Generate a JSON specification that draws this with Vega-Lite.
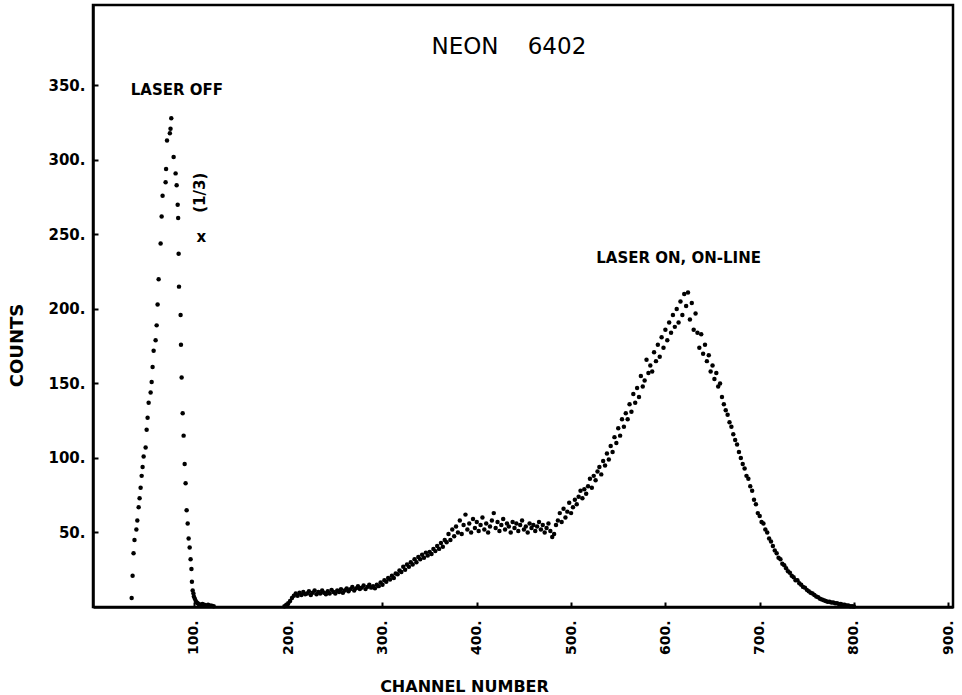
{
  "$schema": "https://vega.github.io/schema/vega-lite/v6.json",
  "width": 860,
  "height": 602,
  "autosize": {"type": "none"},
  "padding": {"left": 93, "top": 5, "right": 9, "bottom": 88},
  "background": "white",
  "config": {
    "view": {"stroke": "black", "strokeWidth": 2.5},
    "axis": {
      "domainColor": "black", "domainWidth": 2.5, "tickColor": "black", "tickWidth": 2,
      "labelColor": "black", "titleColor": "black", "grid": false,
      "labelFont": "DejaVu Sans", "titleFont": "DejaVu Sans",
      "labelFontWeight": "bold", "titleFontWeight": "bold"
    }
  },
  "layer": [
    {
      "data": {"values": [
        {"channel":34,"counts":6},{"channel":35,"counts":21},{"channel":36,"counts":36},{"channel":37,"counts":45},
        {"channel":39,"counts":52},{"channel":40,"counts":58},{"channel":41.4,"counts":67},{"channel":42.4,"counts":73},
        {"channel":43.5,"counts":80},{"channel":44.6,"counts":88},{"channel":45.6,"counts":94},{"channel":46.7,"counts":101},
        {"channel":48.8,"counts":107},{"channel":49.9,"counts":119},{"channel":50.9,"counts":127},{"channel":52,"counts":137},
        {"channel":54.1,"counts":144},{"channel":55.2,"counts":151},{"channel":56.2,"counts":161},{"channel":57.3,"counts":172},
        {"channel":59.4,"counts":179},{"channel":60.5,"counts":189},{"channel":61.5,"counts":203},{"channel":62.6,"counts":220},
        {"channel":64.7,"counts":244},{"channel":65.8,"counts":262},{"channel":66.8,"counts":276},{"channel":70,"counts":285},
        {"channel":70.5,"counts":294},{"channel":71.5,"counts":313},{"channel":74.5,"counts":318},{"channel":75.2,"counts":321},
        {"channel":76,"counts":328},{"channel":78.5,"counts":302},{"channel":80.6,"counts":291},{"channel":81.7,"counts":283},
        {"channel":82.8,"counts":270},{"channel":83.3,"counts":261},{"channel":83.8,"counts":237},{"channel":84.2,"counts":215},
        {"channel":85.9,"counts":196},{"channel":86.3,"counts":176},{"channel":87,"counts":154},{"channel":88.1,"counts":130},
        {"channel":89.1,"counts":115},{"channel":90.2,"counts":96},{"channel":91.2,"counts":83},{"channel":92.3,"counts":65},
        {"channel":93.4,"counts":56},{"channel":94.4,"counts":46},{"channel":95.5,"counts":40},{"channel":96.5,"counts":32},
        {"channel":97.4,"counts":25.5},{"channel":97.9,"counts":17},{"channel":98.7,"counts":11},{"channel":99.5,"counts":9},
        {"channel":100,"counts":7},{"channel":101,"counts":5.5},{"channel":102,"counts":4},{"channel":103,"counts":3},
        {"channel":104,"counts":2.5},{"channel":105,"counts":2},{"channel":107,"counts":1.5},{"channel":109,"counts":2},
        {"channel":111,"counts":1.5},{"channel":113,"counts":1},{"channel":115,"counts":1.5},{"channel":117,"counts":1},
        {"channel":119,"counts":0.8},{"channel":121,"counts":0.5},
        {"channel":196,"counts":0.5},{"channel":198,"counts":1.5},{"channel":200,"counts":2.5},{"channel":202,"counts":4},
        {"channel":204,"counts":6},{"channel":206,"counts":7.5},{"channel":208,"counts":9},{"channel":210,"counts":7.5},
        {"channel":212,"counts":9.5},{"channel":214,"counts":8},{"channel":216,"counts":10},{"channel":218,"counts":8.5},
        {"channel":220,"counts":9},{"channel":222,"counts":10.5},{"channel":224,"counts":8},{"channel":226,"counts":9.5},
        {"channel":228,"counts":11},{"channel":230,"counts":8.5},{"channel":232,"counts":10},{"channel":234,"counts":9},
        {"channel":236,"counts":11},{"channel":238,"counts":9.5},{"channel":240,"counts":8.5},{"channel":242,"counts":10.5},
        {"channel":244,"counts":9},{"channel":246,"counts":11.5},{"channel":248,"counts":10},{"channel":250,"counts":9},
        {"channel":252,"counts":11},{"channel":254,"counts":10},{"channel":256,"counts":12},{"channel":258,"counts":9.5},
        {"channel":260,"counts":11},{"channel":262,"counts":12.5},{"channel":264,"counts":10.5},{"channel":266,"counts":12},
        {"channel":268,"counts":13.5},{"channel":270,"counts":11},{"channel":272,"counts":12.5},{"channel":274,"counts":14},
        {"channel":276,"counts":12},{"channel":278,"counts":13},{"channel":280,"counts":14.5},{"channel":282,"counts":12},
        {"channel":284,"counts":13.5},{"channel":286,"counts":15},{"channel":288,"counts":13},{"channel":290,"counts":14},
        {"channel":292,"counts":12.5},{"channel":294,"counts":15},{"channel":296,"counts":14},{"channel":298,"counts":16.5},
        {"channel":300,"counts":15},{"channel":302,"counts":18},{"channel":304,"counts":17},{"channel":306,"counts":19.5},
        {"channel":308,"counts":18.5},{"channel":310,"counts":21},{"channel":312,"counts":19.5},{"channel":314,"counts":22.5},
        {"channel":316,"counts":22},{"channel":318,"counts":24.5},{"channel":320,"counts":23.5},{"channel":322,"counts":27},
        {"channel":324,"counts":25},{"channel":326,"counts":28.5},{"channel":328,"counts":27},{"channel":330,"counts":30},
        {"channel":332,"counts":28.5},{"channel":334,"counts":32},{"channel":336,"counts":30},{"channel":338,"counts":33.5},
        {"channel":340,"counts":32},{"channel":342,"counts":35},{"channel":344,"counts":33},{"channel":346,"counts":36.5},
        {"channel":348,"counts":34.5},{"channel":350,"counts":37},{"channel":352,"counts":35.5},{"channel":354,"counts":39},
        {"channel":356,"counts":37.5},{"channel":358,"counts":41},{"channel":360,"counts":39},{"channel":362,"counts":43},
        {"channel":364,"counts":40.5},{"channel":366,"counts":45},{"channel":368,"counts":43.5},{"channel":370,"counts":49},
        {"channel":372,"counts":45},{"channel":374,"counts":52},{"channel":376,"counts":47.5},{"channel":378,"counts":54},
        {"channel":380,"counts":50},{"channel":382,"counts":58},{"channel":384,"counts":49},{"channel":386,"counts":55},
        {"channel":388,"counts":62},{"channel":390,"counts":52},{"channel":392,"counts":56},{"channel":394,"counts":50},
        {"channel":396,"counts":59},{"channel":398,"counts":53},{"channel":400,"counts":57},{"channel":402,"counts":51},
        {"channel":404,"counts":55},{"channel":406,"counts":60},{"channel":408,"counts":52},{"channel":410,"counts":56},
        {"channel":412,"counts":50},{"channel":414,"counts":54},{"channel":416,"counts":58},{"channel":418,"counts":63},
        {"channel":420,"counts":53},{"channel":422,"counts":57},{"channel":424,"counts":51},{"channel":426,"counts":55},
        {"channel":428,"counts":59},{"channel":430,"counts":52},{"channel":432,"counts":56},{"channel":434,"counts":54},
        {"channel":436,"counts":50},{"channel":438,"counts":57},{"channel":440,"counts":53},{"channel":442,"counts":56},
        {"channel":444,"counts":51},{"channel":446,"counts":55},{"channel":448,"counts":58},{"channel":450,"counts":52},
        {"channel":452,"counts":54},{"channel":454,"counts":50},{"channel":456,"counts":56},{"channel":458,"counts":53},
        {"channel":460,"counts":55},{"channel":462,"counts":51},{"channel":464,"counts":54},{"channel":466,"counts":57},
        {"channel":468,"counts":52},{"channel":470,"counts":55},{"channel":472,"counts":50},{"channel":474,"counts":53},
        {"channel":476,"counts":56},{"channel":478,"counts":51},{"channel":480,"counts":47},{"channel":482,"counts":49},
        {"channel":484,"counts":55},{"channel":486,"counts":58},{"channel":488,"counts":63},{"channel":490,"counts":57},
        {"channel":492,"counts":66},{"channel":494,"counts":60},{"channel":496,"counts":64},{"channel":498,"counts":70},
        {"channel":500,"counts":63},{"channel":502,"counts":67},{"channel":504,"counts":72},{"channel":506,"counts":69},
        {"channel":508,"counts":74},{"channel":510,"counts":78},{"channel":512,"counts":73},{"channel":514,"counts":79},
        {"channel":516,"counts":76},{"channel":518,"counts":81},{"channel":520,"counts":86},{"channel":522,"counts":80},
        {"channel":524,"counts":88},{"channel":526,"counts":85},{"channel":528,"counts":91},{"channel":530,"counts":94},
        {"channel":532,"counts":89},{"channel":534,"counts":98},{"channel":536,"counts":95},{"channel":538,"counts":103},
        {"channel":540,"counts":99},{"channel":542,"counts":108},{"channel":544,"counts":104},{"channel":546,"counts":114},
        {"channel":548,"counts":110},{"channel":550,"counts":120},{"channel":552,"counts":115},{"channel":554,"counts":126},
        {"channel":556,"counts":121},{"channel":558,"counts":130},{"channel":560,"counts":126},{"channel":562,"counts":136},
        {"channel":564,"counts":131},{"channel":566,"counts":143},{"channel":568,"counts":137},{"channel":570,"counts":147},
        {"channel":572,"counts":141},{"channel":574,"counts":155},{"channel":576,"counts":148},{"channel":578,"counts":152},
        {"channel":580,"counts":166},{"channel":582,"counts":157},{"channel":584,"counts":162},{"channel":586,"counts":158},
        {"channel":588,"counts":171},{"channel":590,"counts":165},{"channel":592,"counts":176},{"channel":594,"counts":168},
        {"channel":596,"counts":181},{"channel":598,"counts":174},{"channel":600,"counts":186},{"channel":602,"counts":179},
        {"channel":604,"counts":191},{"channel":606,"counts":184},{"channel":608,"counts":196},{"channel":610,"counts":188},
        {"channel":612,"counts":200},{"channel":614,"counts":191},{"channel":616,"counts":205},{"channel":618,"counts":196},
        {"channel":620,"counts":210},{"channel":622,"counts":202},{"channel":624,"counts":211},{"channel":626,"counts":193},
        {"channel":628,"counts":204},{"channel":630,"counts":186},{"channel":632,"counts":197},{"channel":634,"counts":184},
        {"channel":636,"counts":174},{"channel":638,"counts":183},{"channel":640,"counts":170},{"channel":642,"counts":176},
        {"channel":644,"counts":165},{"channel":646,"counts":169},{"channel":648,"counts":158},{"channel":650,"counts":162},
        {"channel":652,"counts":153},{"channel":654,"counts":157},{"channel":656,"counts":148},{"channel":658,"counts":150},
        {"channel":660,"counts":141},{"channel":662,"counts":136},{"channel":664,"counts":132},{"channel":666,"counts":129},
        {"channel":668,"counts":124},{"channel":670,"counts":121},{"channel":672,"counts":116},{"channel":674,"counts":112},
        {"channel":676,"counts":109},{"channel":678,"counts":104},{"channel":680,"counts":100},{"channel":682,"counts":96},
        {"channel":684,"counts":93},{"channel":686,"counts":88},{"channel":688,"counts":86},{"channel":690,"counts":81},
        {"channel":692,"counts":78},{"channel":694,"counts":72},{"channel":696,"counts":69},{"channel":698,"counts":63},
        {"channel":700,"counts":61},{"channel":702,"counts":57},{"channel":704,"counts":56},{"channel":706,"counts":52},
        {"channel":708,"counts":50},{"channel":710,"counts":46},{"channel":712,"counts":44},{"channel":714,"counts":41},
        {"channel":716,"counts":38},{"channel":718,"counts":36},{"channel":720,"counts":33},{"channel":722,"counts":32},
        {"channel":724,"counts":29},{"channel":726,"counts":28},{"channel":728,"counts":26},{"channel":730,"counts":24},
        {"channel":732,"counts":23},{"channel":734,"counts":21},{"channel":736,"counts":20},{"channel":738,"counts":18},
        {"channel":740,"counts":18},{"channel":742,"counts":16},{"channel":744,"counts":15},{"channel":746,"counts":13.5},
        {"channel":748,"counts":13},{"channel":750,"counts":11.5},{"channel":752,"counts":10.5},{"channel":754,"counts":9.5},
        {"channel":756,"counts":9},{"channel":758,"counts":8},{"channel":760,"counts":7},{"channel":762,"counts":6.5},
        {"channel":764,"counts":5.5},{"channel":766,"counts":5},{"channel":768,"counts":4.5},{"channel":770,"counts":4},
        {"channel":772,"counts":3.5},{"channel":774,"counts":3.5},{"channel":776,"counts":3},{"channel":778,"counts":3},
        {"channel":780,"counts":2.5},{"channel":782,"counts":2.5},{"channel":784,"counts":2},{"channel":786,"counts":2},
        {"channel":788,"counts":1.5},{"channel":790,"counts":1.5},{"channel":792,"counts":1},{"channel":794,"counts":1},
        {"channel":796,"counts":0.5},{"channel":798,"counts":0.5},{"channel":800,"counts":0.3}
      ]},
      "mark": {"type": "point", "filled": true, "color": "black", "opacity": 1, "size": 20, "strokeWidth": 0},
      "encoding": {
        "x": {"field": "channel", "type": "quantitative",
          "scale": {"domain": [-7, 905], "nice": false, "zero": false},
          "axis": {"title": "CHANNEL NUMBER", "values": [100,200,300,400,500,600,700,800,900],
            "labelExpr": "datum.label + '.'", "labelAngle": 270, "labelAlign": "right", "labelBaseline": "middle",
            "labelFontSize": 14, "labelPadding": 18, "tickSize": -5,
            "titleFontSize": 16, "titleX": 371, "titleY": 79, "titleAlign": "center", "titleBaseline": "middle", "titleAnchor": null}},
        "y": {"field": "counts", "type": "quantitative",
          "scale": {"domain": [0, 404], "nice": false, "zero": false},
          "axis": {"title": "COUNTS", "values": [50,100,150,200,250,300,350],
            "labelExpr": "datum.label + '.'", "labelFontSize": 15, "labelPadding": 13, "tickSize": -5,
            "titleFontSize": 18, "titleX": -76, "titleY": 340, "titleAlign": "center", "titleBaseline": "middle", "titleAngle": 270}}
      }
    },
    {
      "data": {"values": [{"label": "NEON\u00a0\u00a0\u00a0\u00a06402", "channel": 434, "counts": 376}]},
      "mark": {"type": "text", "font": "DejaVu Sans", "fontSize": 23, "color": "black", "align": "center", "baseline": "middle"},
      "encoding": {"x": {"field": "channel", "type": "quantitative"}, "y": {"field": "counts", "type": "quantitative"}, "text": {"field": "label"}}
    },
    {
      "data": {"values": [
        {"label": "LASER OFF", "channel": 82, "counts": 347},
        {"label": "LASER ON, ON-LINE", "channel": 614, "counts": 234},
        {"label": "x", "channel": 108, "counts": 248}
      ]},
      "mark": {"type": "text", "font": "DejaVu Sans", "fontSize": 15, "fontWeight": "bold", "color": "black", "align": "center", "baseline": "middle"},
      "encoding": {"x": {"field": "channel", "type": "quantitative"}, "y": {"field": "counts", "type": "quantitative"}, "text": {"field": "label"}}
    },
    {
      "data": {"values": [{"label": "(1/3)", "channel": 106, "counts": 278}]},
      "mark": {"type": "text", "font": "DejaVu Sans", "fontSize": 15, "fontWeight": "bold", "color": "black", "align": "center", "baseline": "middle", "angle": 270},
      "encoding": {"x": {"field": "channel", "type": "quantitative"}, "y": {"field": "counts", "type": "quantitative"}, "text": {"field": "label"}}
    }
  ]
}
